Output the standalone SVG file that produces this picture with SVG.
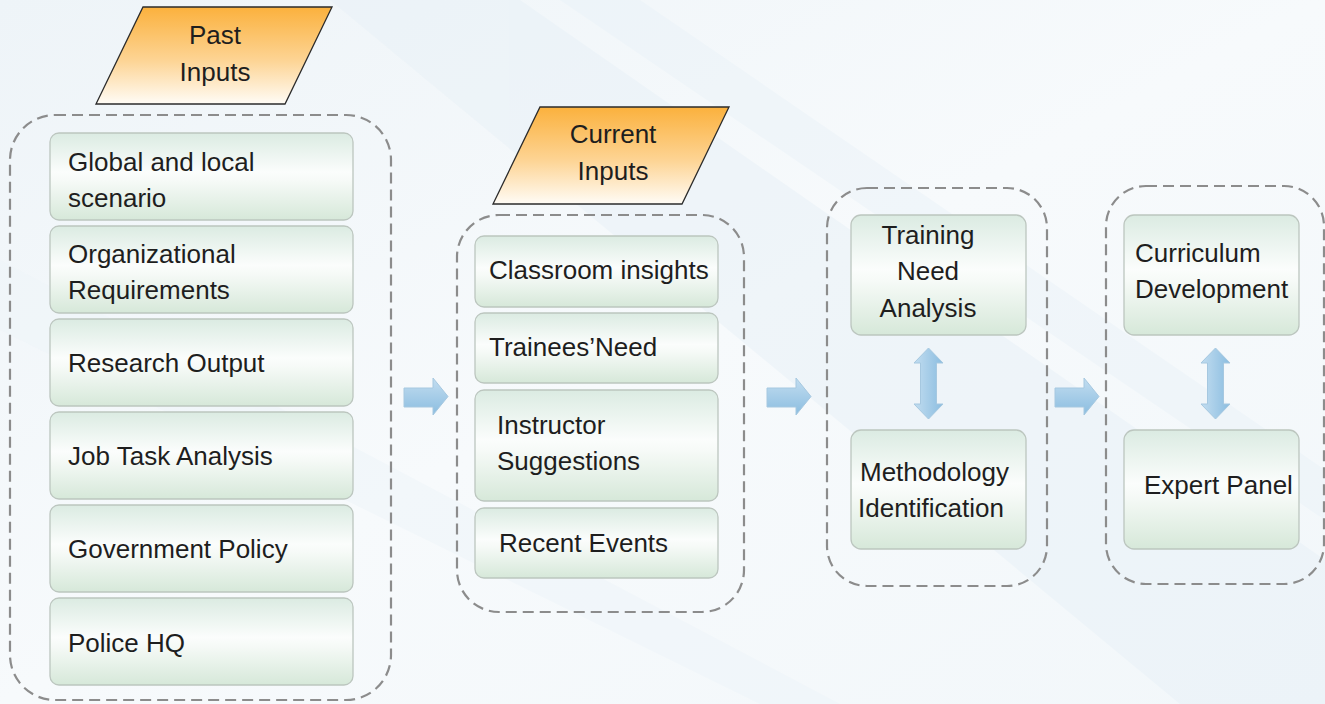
<svg xmlns="http://www.w3.org/2000/svg" width="1325" height="704" viewBox="0 0 1325 704">
<defs>
<linearGradient id="bg" x1="0" y1="0" x2="1" y2="1">
<stop offset="0" stop-color="#eef4f8"/>
<stop offset="0.5" stop-color="#f7fafc"/>
<stop offset="1" stop-color="#f2f7fa"/>
</linearGradient>
<linearGradient id="para" x1="0" y1="0" x2="0" y2="1">
<stop offset="0" stop-color="#fbb13d"/>
<stop offset="0.55" stop-color="#fdd494"/>
<stop offset="1" stop-color="#fffcf6"/>
</linearGradient>
<linearGradient id="box" x1="0" y1="0" x2="0" y2="1">
<stop offset="0" stop-color="#dbebe2"/>
<stop offset="0.45" stop-color="#fbfdfc"/>
<stop offset="0.55" stop-color="#f6faf7"/>
<stop offset="1" stop-color="#d6e8d9"/>
</linearGradient>
<linearGradient id="arr" x1="0" y1="0" x2="0" y2="1">
<stop offset="0" stop-color="#c2ddf0"/>
<stop offset="1" stop-color="#8bbde0"/>
</linearGradient>
<linearGradient id="varr" x1="0" y1="0" x2="1" y2="0">
<stop offset="0" stop-color="#c2ddf0"/>
<stop offset="1" stop-color="#8bbde0"/>
</linearGradient>
<style>
.t{font-family:"Liberation Sans",Arial,sans-serif;font-size:26px;fill:#1e1e1e}
.grp{fill:none;stroke:#8c8c8c;stroke-width:2.2;stroke-dasharray:11 6}
.bx{fill:url(#box);stroke:#bcc6bf;stroke-width:1.3}
.pg{fill:url(#para);stroke:#2b2b2b;stroke-width:1.3}
.ar{fill:url(#arr);stroke:#a6c8e0;stroke-width:1}
.va{fill:url(#varr);stroke:#a6c8e0;stroke-width:1}
</style>
</defs>
<rect x="0" y="0" width="1325" height="704" fill="url(#bg)"/>
<g opacity="0.45">
<polygon points="330,0 520,0 1325,560 1325,704 1180,704" fill="#e6f0f7"/>
<polygon points="560,0 640,0 1325,470 1325,520" fill="#e9f2f8"/>
<polygon points="0,260 0,330 760,704 840,704" fill="#edf4f9"/>
</g>

<g id="group-past"><rect class="grp" x="10" y="115" width="381" height="585" rx="45"/></g>
<g id="group-current"><rect class="grp" x="457" y="215" width="287" height="397" rx="42"/></g>
<g id="group-analysis"><rect class="grp" x="827" y="188" width="220" height="398" rx="40"/></g>
<g id="group-curriculum"><rect class="grp" x="1106" y="186" width="218" height="398" rx="40"/></g>

<g id="past-inputs"><polygon class="pg" points="143,7 332,7 285,104 96,104"/><text class="t" x="215" y="44" text-anchor="middle">Past</text><text class="t" x="215" y="81" text-anchor="middle">Inputs</text></g>
<g id="current-inputs"><polygon class="pg" points="540,107 729,107 682,204 493,204"/><text class="t" x="613" y="143" text-anchor="middle">Current</text><text class="t" x="613" y="180" text-anchor="middle">Inputs</text></g>

<g id="global"><rect class="bx" x="50" y="133" width="303" height="87" rx="9"/><text class="t" x="68" y="171">Global and local</text><text class="t" x="68" y="207">scenario</text></g>
<g id="org"><rect class="bx" x="50" y="226" width="303" height="87" rx="9"/><text class="t" x="68" y="263">Organizational</text><text class="t" x="68" y="299">Requirements</text></g>
<g id="research"><rect class="bx" x="50" y="319" width="303" height="87" rx="9"/><text class="t" x="68" y="372">Research Output</text></g>
<g id="jobtask"><rect class="bx" x="50" y="412" width="303" height="87" rx="9"/><text class="t" x="68" y="465">Job Task Analysis</text></g>
<g id="govt"><rect class="bx" x="50" y="505" width="303" height="87" rx="9"/><text class="t" x="68" y="558">Government Policy</text></g>
<g id="police"><rect class="bx" x="50" y="598" width="303" height="87" rx="9"/><text class="t" x="68" y="652">Police HQ</text></g>

<g id="classroom"><rect class="bx" x="475" y="236" width="243" height="71" rx="9"/><text class="t" x="489" y="279">Classroom insights</text></g>
<g id="trainees"><rect class="bx" x="475" y="313" width="243" height="70" rx="9"/><text class="t" x="489" y="356">Trainees’Need</text></g>
<g id="instructor"><rect class="bx" x="475" y="390" width="243" height="111" rx="9"/><text class="t" x="497" y="434">Instructor</text><text class="t" x="497" y="470">Suggestions</text></g>
<g id="recent"><rect class="bx" x="475" y="508" width="243" height="70" rx="9"/><text class="t" x="499" y="552">Recent Events</text></g>

<g id="tna"><rect class="bx" x="851" y="215" width="175" height="120" rx="10"/><text class="t" x="928" y="244" text-anchor="middle">Training</text><text class="t" x="928" y="280" text-anchor="middle">Need</text><text class="t" x="928" y="317" text-anchor="middle">Analysis</text></g>
<g id="method"><rect class="bx" x="851" y="430" width="175" height="119" rx="10"/><text class="t" x="860" y="481">Methodology</text><text class="t" x="858" y="517">Identification</text></g>
<g id="curriculum"><rect class="bx" x="1124" y="215" width="175" height="120" rx="10"/><text class="t" x="1135" y="262">Curriculum</text><text class="t" x="1135" y="298">Development</text></g>
<g id="expert"><rect class="bx" x="1124" y="430" width="175" height="119" rx="10"/><text class="t" x="1144" y="494">Expert Panel</text></g>

<g id="connectors">
<polygon class="ar" points="404,388 433,388 433,378 448,396.5 433,415 433,407 404,407"/>
<polygon class="ar" points="767,388 796,388 796,378 811,396.5 796,415 796,407 767,407"/>
<polygon class="ar" points="1055,388 1084,388 1084,378 1099,396.5 1084,415 1084,407 1055,407"/>
<polygon class="va" points="928.5,348 943,363 936.5,363 936.5,404 943,404 928.5,419 914,404 920.5,404 920.5,363 914,363"/>
<polygon class="va" points="1215.5,348 1230,363 1223.5,363 1223.5,404 1230,404 1215.5,419 1201,404 1207.5,404 1207.5,363 1201,363"/>
</g>
</svg>
